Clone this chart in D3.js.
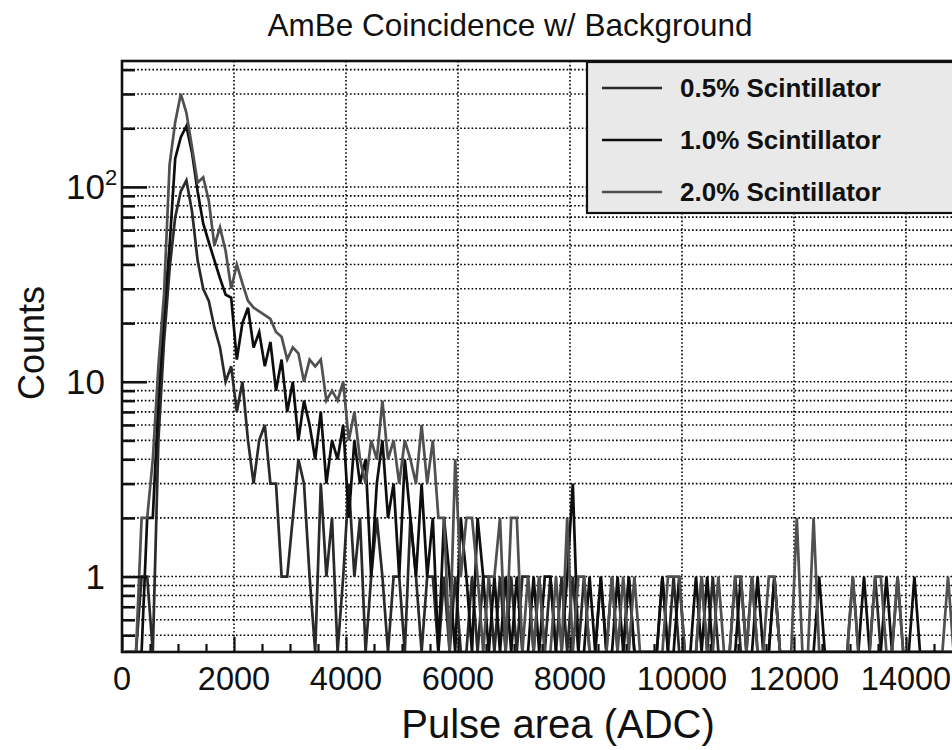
<!DOCTYPE html>
<html>
<head>
<meta charset="utf-8">
<script src="https://cdn.jsdelivr.net/npm/d3@7"></script>
<style>
  body { margin: 0; background: #fff; }
  svg { display: block; }
  text { font-family: "Liberation Sans", Arial, Helvetica, sans-serif; fill: #111; }
</style>
</head>
<body>
<svg id="chart" width="952" height="750"></svg>
<script>
// Histogram binning (ADC units): bin i covers [i*100, (i+1)*100)
const binWidth = 100;
const xMax = 15000;

// Counts per bin, 150 bins from 0 to 15000 ADC
const counts2p0 = [
  0, 0, 0, 2, 2, 4, 12, 28, 130, 215,
  300, 240, 160, 105, 112, 85, 50, 62, 47, 30,
  40, 32, 26, 24, 23, 22, 21, 18, 17, 13,
  15, 14, 10, 13, 12, 13, 8, 9, 8, 10,
  5, 7, 4, 3, 5, 4, 8, 4, 5, 3,
  5, 4, 3, 6, 3, 5, 2, 2, 0, 4,
  1, 2, 2, 1, 0, 1, 1, 2, 0, 2,
  2, 0, 1, 0, 1, 0, 0, 1, 0, 2,
  0, 1, 1, 0, 0, 0, 0, 1, 0, 1,
  0, 1, 0, 0, 0, 0, 0, 1, 1, 1,
  0, 0, 0, 1, 0, 0, 1, 0, 0, 1,
  1, 0, 1, 0, 0, 1, 1, 0, 0, 0,
  2, 0, 0, 2, 0, 0, 0, 0, 0, 0,
  1, 0, 0, 0, 1, 1, 0, 0, 1, 0,
  0, 0, 0, 0, 0, 0, 0, 1, 0, 0
];
const counts1p0 = [
  0, 0, 0, 0, 2, 2, 8, 22, 50, 140,
  180, 205, 150, 95, 65, 52, 42, 34, 28, 27,
  13, 20, 24, 15, 18, 12, 16, 9, 13, 7,
  10, 5, 8, 6, 4, 7, 3, 5, 4, 6,
  2, 5, 3, 4, 1, 3, 5, 2, 3, 1,
  4, 2, 1, 3, 1, 2, 0, 2, 1, 0,
  2, 1, 0, 2, 1, 0, 1, 0, 1, 0,
  1, 0, 0, 1, 0, 1, 1, 0, 0, 1,
  3, 0, 0, 1, 0, 1, 0, 0, 1, 0,
  1, 0, 0, 0, 0, 0, 1, 0, 0, 1,
  0, 0, 1, 0, 1, 0, 0, 0, 0, 0,
  1, 0, 0, 1, 0, 0, 1, 0, 0, 0,
  0, 0, 0, 0, 1, 0, 0, 0, 0, 0,
  0, 0, 1, 0, 0, 0, 1, 0, 0, 0,
  0, 1, 0, 0, 0, 0, 0, 0, 0, 0
];
const counts0p5 = [
  0, 0, 0, 1, 1, 0, 5, 16, 38, 70,
  95, 108, 75, 42, 30, 26, 19, 15, 10, 12,
  7, 10, 5, 3, 5, 6, 3, 3, 1, 1,
  2, 4, 3, 1, 0, 3, 1, 2, 0, 1,
  3, 1, 2, 0, 1, 2, 1, 0, 1, 1,
  0, 2, 1, 0, 1, 1, 0, 1, 0, 1,
  0, 0, 1, 0, 1, 1, 0, 1, 0, 1,
  0, 1, 1, 0, 1, 0, 1, 0, 1, 0,
  1, 0, 1, 0, 0, 1, 0, 1, 0, 0,
  1, 0, 0, 0, 0, 0, 1, 0, 1, 0,
  0, 0, 0, 1, 0, 1, 0, 0, 0, 1,
  0, 0, 1, 0, 0, 0, 1, 0, 0, 0,
  0, 0, 0, 0, 0, 0, 0, 0, 0, 0,
  1, 0, 0, 0, 1, 0, 0, 0, 1, 0,
  0, 0, 0, 0, 0, 0, 0, 0, 0, 0
];

const seriesLabels = ["0.5% Scintillator", "1.0% Scintillator", "2.0% Scintillator"];
const seriesCounts = [counts0p5, counts1p0, counts2p0];
const seriesColors = ["#2a2a2a", "#0e0e0e", "#505050"];

const xTickValues = [0, 2000, 4000, 6000, 8000, 10000, 12000, 14000];
const yLabelTicks = [1, 10, 100];
const yMinorTicks = [0.5, 0.6, 0.7, 0.8, 0.9, 2, 3, 4, 5, 6, 7, 8, 9,
                     20, 30, 40, 50, 60, 70, 80, 90, 200, 300, 400];

const titleText = "AmBe Coincidence w/ Background";
const xTitle = "Pulse area (ADC)";
const yTitle = "Counts";

// Frame geometry
const frame = { left: 122, top: 61, bottom: 652, right: 962 };

const svg = d3.select("#chart");

const x = d3.scaleLinear().domain([0, xMax]).range([frame.left, frame.right]);
const y = d3.scaleLog().domain([0.41, 443]).range([frame.bottom, frame.top]);

svg.append("defs").append("clipPath").attr("id", "frameClip")
  .append("rect")
  .attr("x", frame.left).attr("y", frame.top)
  .attr("width", frame.right - frame.left).attr("height", frame.bottom - frame.top);

// Dotted grid: vertical at labelled x ticks, horizontal at every log tick
const grid = svg.append("g").attr("stroke", "#000").attr("stroke-width", 1.6)
  .attr("stroke-dasharray", "1.6,2.2");
grid.selectAll("line.gx").data(xTickValues.filter(v => v > 0)).join("line")
  .attr("x1", d => x(d)).attr("x2", d => x(d))
  .attr("y1", frame.top).attr("y2", frame.bottom);
grid.selectAll("line.gy").data(yLabelTicks.concat(yMinorTicks)).join("line")
  .attr("x1", frame.left).attr("x2", frame.right)
  .attr("y1", d => y(d)).attr("y2", d => y(d));

// Histogram polylines through bin centres; empty bins drop to the frame floor
const yFloor = y.domain()[0];
const line = d3.line()
  .x((d, i) => x(i * binWidth + binWidth / 2))
  .y(d => y(d > 0 ? d : yFloor));

svg.append("g").attr("clip-path", "url(#frameClip)")
  .selectAll("path").data(seriesCounts).join("path")
  .attr("d", d => line(d))
  .attr("fill", "none")
  .attr("stroke", (d, i) => seriesColors[i])
  .attr("stroke-width", 2.7)
  .attr("stroke-linejoin", "miter")
  .attr("stroke-miterlimit", 4);

// Axes with inward ticks
const yAxisMajor = d3.axisRight(y).tickValues(yLabelTicks).tickSize(25).tickFormat("");
const yAxisMinor = d3.axisRight(y).tickValues(yMinorTicks).tickSize(13).tickFormat("");
[yAxisMajor, yAxisMinor].forEach(ax => {
  const g = svg.append("g").attr("transform", `translate(${frame.left},0)`).call(ax);
  g.select(".domain").remove();
  g.selectAll(".tick line").attr("stroke", "#111").attr("stroke-width", 2.6);
});

const xMinorTicks = d3.range(500, xMax, 500).filter(v => v % 2000 !== 0);
const xAxisMajor = d3.axisTop(x).tickValues(xTickValues).tickSize(15).tickFormat("");
const xAxisMinor = d3.axisTop(x).tickValues(xMinorTicks).tickSize(8).tickFormat("");
[xAxisMajor, xAxisMinor].forEach(ax => {
  const g = svg.append("g").attr("transform", `translate(0,${frame.bottom})`).call(ax);
  g.select(".domain").remove();
  g.selectAll(".tick line").attr("stroke", "#111").attr("stroke-width", 2.2);
});

// Frame
svg.append("rect")
  .attr("x", frame.left).attr("y", frame.top)
  .attr("width", frame.right - frame.left).attr("height", frame.bottom - frame.top)
  .attr("fill", "none").attr("stroke", "#111").attr("stroke-width", 2.6);

// X tick labels
svg.append("g").selectAll("text").data(xTickValues).join("text")
  .attr("x", d => x(d)).attr("y", 690)
  .attr("text-anchor", "middle").attr("font-size", 32.5)
  .text(d => d3.format("d")(d));

// Y tick labels (ROOT-style: 1, 10, 10^2)
const yLab = svg.append("g");
yLabelTicks.forEach(v => {
  const exp = Math.round(Math.log10(v));
  yLab.append("text")
    .attr("x", 105).attr("y", y(v) + 12)
    .attr("text-anchor", "end").attr("font-size", 35)
    .text(exp < 2 ? String(v) : "10");
  if (exp >= 2) {
    yLab.append("text")
      .attr("x", 105).attr("y", y(v) - 2)
      .attr("font-size", 22)
      .text(String(exp));
  }
});

// Titles
svg.append("text").attr("x", 510).attr("y", 36)
  .attr("text-anchor", "middle").attr("font-size", 31.5).text(titleText);
svg.append("text").attr("x", 558).attr("y", 738)
  .attr("text-anchor", "middle").attr("font-size", 40).text(xTitle);
svg.append("text")
  .attr("transform", `translate(44,343) rotate(-90)`)
  .attr("text-anchor", "middle").attr("font-size", 36).text(yTitle);

// Legend
const legend = svg.append("g");
legend.append("rect")
  .attr("x", 587).attr("y", 62).attr("width", 400).attr("height", 151)
  .attr("fill", "#e9e9e9").attr("stroke", "#111").attr("stroke-width", 2.2);
const rowY = [88, 140, 192];
seriesLabels.forEach((lab, i) => {
  legend.append("line")
    .attr("x1", 602).attr("x2", 662).attr("y1", rowY[i]).attr("y2", rowY[i])
    .attr("stroke", seriesColors[i]).attr("stroke-width", 2.6);
  legend.append("text")
    .attr("x", 680).attr("y", rowY[i] + 9)
    .attr("font-size", 26).attr("font-weight", "bold")
    .text(lab);
});
</script>
</body>
</html>
